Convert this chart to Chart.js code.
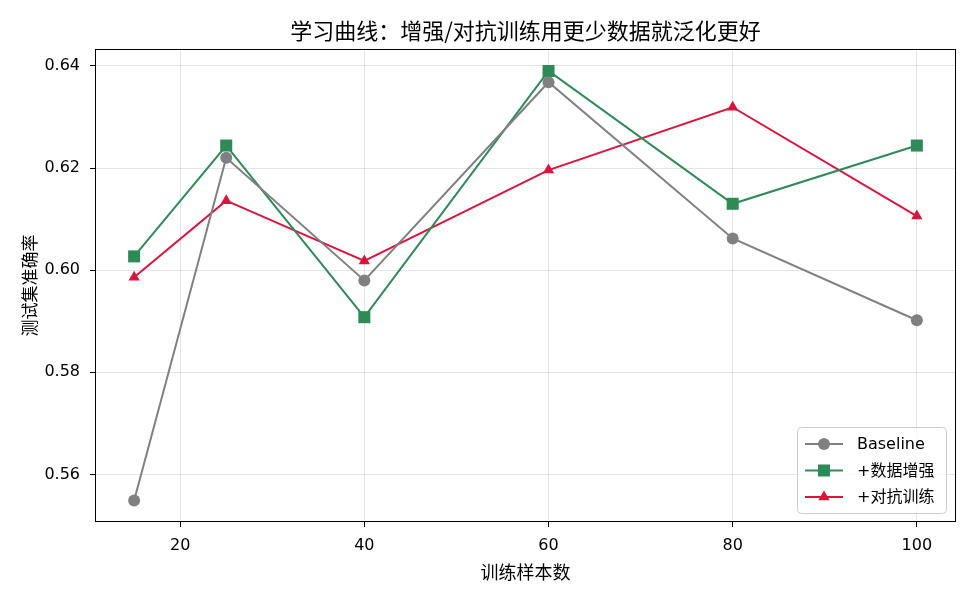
<!DOCTYPE html>
<html>
<head>
<meta charset="utf-8">
<script src="https://cdn.jsdelivr.net/npm/chart.js@4.4.1/dist/chart.umd.min.js"></script>
<style>
  html, body { margin: 0; padding: 0; background: #fff; }
</style>
</head>
<body>
<canvas id="learningCurve" width="975" height="598"></canvas>
<script>
var sampleSizes = [15, 25, 40, 60, 80, 100];
var baselineAcc = [0.5549, 0.6220, 0.5980, 0.6368, 0.6062, 0.5902];
var augmentAcc = [0.6027, 0.6244, 0.5908, 0.6390, 0.6130, 0.6244];
var adversarialAcc = [0.5986, 0.6136, 0.6018, 0.6196, 0.6319, 0.6106];
var seriesNames = ["Baseline", "+数据增强", "+对抗训练"];
var xTicks = [20, 40, 60, 80, 100];
var yTicks = [0.56, 0.58, 0.60, 0.62, 0.64];

var FONT = '"DejaVu Sans", "Noto Sans CJK SC", sans-serif';
var CJK = '"Noto Sans CJK SC", sans-serif';

function toPoints(values) {
  return sampleSizes.map(function (x, i) { return { x: x, y: values[i] }; });
}

// marker drawn by hand so the legend matches the line markers
function drawMarker(c, style, x, y, r, color) {
  c.save();
  c.fillStyle = color;
  c.beginPath();
  if (style === "circle") {
    c.arc(x, y, r, 0, Math.PI * 2);
  } else if (style === "rect") {
    var s = r * Math.SQRT1_2;
    c.rect(x - s, y - s, 2 * s, 2 * s);
  } else {
    c.moveTo(x, y - r);
    c.lineTo(x + r * Math.sin(2 * Math.PI / 3), y - r * Math.cos(2 * Math.PI / 3));
    c.lineTo(x + r * Math.sin(4 * Math.PI / 3), y - r * Math.cos(4 * Math.PI / 3));
    c.closePath();
  }
  c.fill();
  c.restore();
}

var framePlugin = {
  id: "frame",
  afterDraw: function (chart) {
    var c = chart.ctx, ca = chart.chartArea;
    c.save();
    // plot frame
    c.strokeStyle = "#000";
    c.lineWidth = 1;
    c.strokeRect(Math.round(ca.left) + 0.5, Math.round(ca.top) + 0.5,
      Math.round(ca.right - ca.left) - 1, Math.round(ca.bottom - ca.top) - 1);

    // title
    c.fillStyle = "#000";
    c.font = "22px " + CJK;
    c.textAlign = "center";
    c.textBaseline = "middle";
    c.fillText("学习曲线：增强/对抗训练用更少数据就泛化更好", (ca.left + ca.right) / 2, 31);

    // legend, lower right inside the plot
    var w = 149, h = 86;
    var bx = Math.round(ca.right - 10 - w), by = Math.round(ca.bottom - 9 - h);
    c.beginPath();
    c.roundRect(bx + 0.5, by + 0.5, w, h, 4);
    c.fillStyle = "rgba(255,255,255,0.8)";
    c.fill();
    c.strokeStyle = "#cccccc";
    c.lineWidth = 1;
    c.stroke();

    c.font = "16px " + FONT;
    c.textAlign = "left";
    chart.data.datasets.forEach(function (ds, i) {
      var ry = by + 17 + i * 26.5;
      c.strokeStyle = ds.borderColor;
      c.lineWidth = 2;
      c.beginPath();
      c.moveTo(bx + 8, ry);
      c.lineTo(bx + 46, ry);
      c.stroke();
      drawMarker(c, ds.pointStyle, bx + 27, ry, ds.pointRadius, ds.borderColor);
      c.fillStyle = "#000";
      c.fillText(ds.label, bx + 60, ry + 1);
    });
    c.restore();
  }
};

var ctx = document.getElementById("learningCurve");

new Chart(ctx, {
  type: "line",
  data: {
    datasets: [
      {
        label: seriesNames[0],
        data: toPoints(baselineAcc),
        borderColor: "#808080",
        backgroundColor: "#808080",
        pointStyle: "circle",
        pointRadius: 6,
      },
      {
        label: seriesNames[1],
        data: toPoints(augmentAcc),
        borderColor: "#2e8b57",
        backgroundColor: "#2e8b57",
        pointStyle: "rect",
        pointRadius: 8.5,
      },
      {
        label: seriesNames[2],
        data: toPoints(adversarialAcc),
        borderColor: "#dc143c",
        backgroundColor: "#dc143c",
        pointStyle: "triangle",
        pointRadius: 6.5,
      },
    ],
  },
  options: {
    responsive: false,
    animation: false,
    devicePixelRatio: 1,
    layout: { padding: { top: 49, right: 19, left: 0, bottom: 0 } },
    elements: {
      line: { borderWidth: 2, tension: 0 },
      point: { borderWidth: 0, hoverRadius: 6 },
    },
    plugins: {
      legend: { display: false },
      title: { display: false },
      tooltip: { enabled: false },
    },
    scales: {
      x: {
        type: "linear",
        min: 10.75,
        max: 104.25,
        afterBuildTicks: function (axis) {
          axis.ticks = xTicks.map(function (v) { return { value: v }; });
        },
        afterFit: function (axis) { axis.height = 76; },
        grid: { color: "rgba(0,0,0,0.1)", tickColor: "#000", tickLength: 5 },
        border: { display: false },
        ticks: { color: "#000", padding: 9, font: { family: FONT, size: 16 } },
        title: {
          display: true,
          text: "训练样本数",
          color: "#000",
          font: { family: CJK, size: 18 },
          padding: { top: 0, bottom: 15 },
        },
      },
      y: {
        min: 0.5507,
        max: 0.6433,
        afterBuildTicks: function (axis) {
          axis.ticks = yTicks.map(function (v) { return { value: v }; });
        },
        afterFit: function (axis) { axis.width = 95; },
        grid: { color: "rgba(0,0,0,0.1)", tickColor: "#000", tickLength: 5 },
        border: { display: false },
        ticks: {
          color: "#000",
          padding: 10,
          font: { family: FONT, size: 16 },
          callback: function (v) { return v.toFixed(2); },
        },
        title: {
          display: true,
          text: "测试集准确率",
          color: "#000",
          font: { family: CJK, size: 17 },
          padding: { top: 19, bottom: 0 },
        },
      },
    },
  },
  plugins: [framePlugin],
});
</script>
</body>
</html>
